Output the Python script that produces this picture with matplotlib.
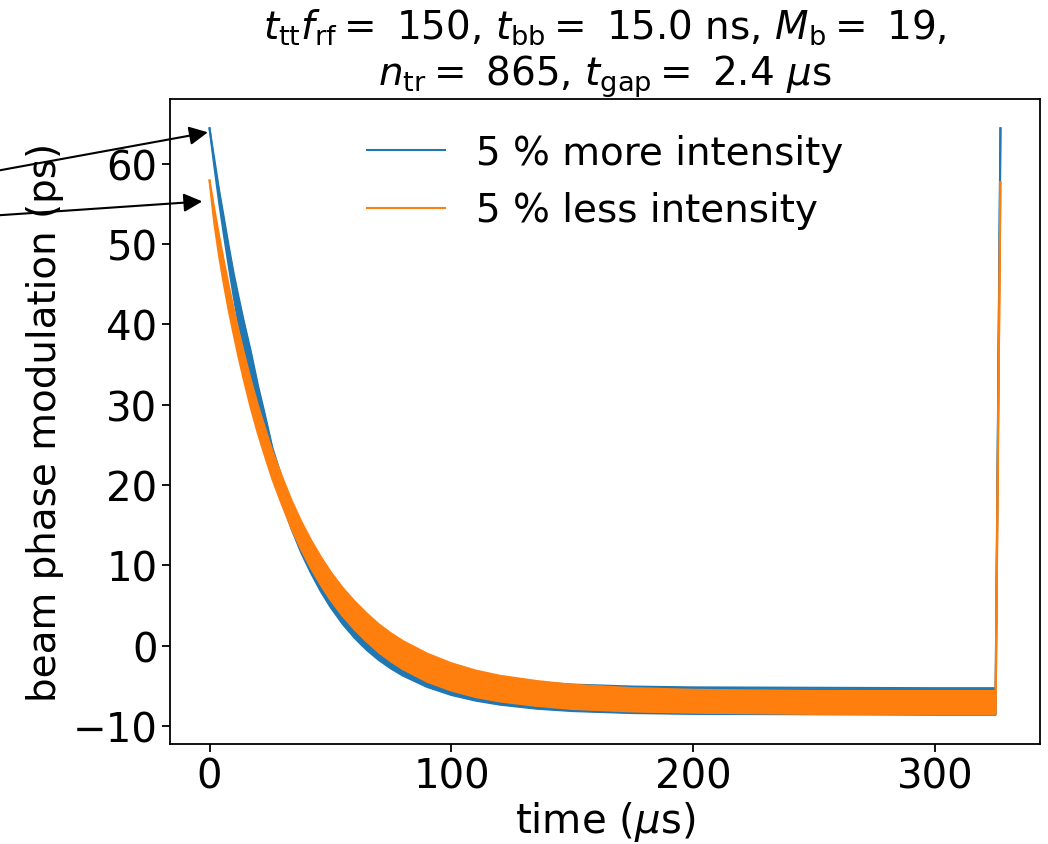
import matplotlib
matplotlib.use("Agg")
import matplotlib.pyplot as plt
from matplotlib.ticker import MultipleLocator

# ---- data (envelopes of the fast oscillation) ----
t_us = [0, 1, 2, 4, 6, 8, 10, 12, 14, 17, 20, 23, 26, 30, 34, 38, 42, 46,
        50, 55, 60, 65, 70, 75, 80, 90, 100, 110, 120, 135, 150, 175, 200,
        250, 300, 325, 327]

# 5 % more intensity (blue)
more_upper = [64.4, 62.4, 60.5, 56.6, 53.1, 49.6, 46.3, 43.4, 40.6, 36.7,
              32.4, 28.6, 24.6, 20.8, 17.6, 14.8, 12.3, 10.05, 8.1, 6.0,
              4.25, 2.75, 1.5, 0.45, -0.45, -1.85, -2.85, -3.55, -4.05,
              -4.55, -4.85, -5.1, -5.2, -5.25, -5.3, -5.3, 64.4]
more_lower = [64.4, 62.0, 59.6, 55.1, 51.0, 47.1, 43.4, 40.0, 36.8, 32.4,
              28.5, 24.9, 21.6, 17.8, 14.45, 11.5, 9.0, 6.75, 4.8, 2.7,
              0.95, -0.55, -1.8, -2.85, -3.75, -5.15, -6.15, -6.85, -7.35,
              -7.85, -8.15, -8.4, -8.5, -8.55, -8.6, -8.6, 64.4]

# 5 % less intensity (orange)
less_upper = [57.9, 56.1, 54.3, 50.9, 47.75, 44.7, 41.9, 39.2, 36.7, 33.15,
              29.9, 27.0, 24.2, 21.0, 18.0, 15.4, 13.1, 11.05, 9.2, 7.2,
              5.5, 4.0, 2.65, 1.53, 0.56, -1.0, -2.2, -3.1, -3.75, -4.4,
              -4.88, -5.3, -5.5, -5.65, -5.65, -5.65, 57.7]
less_lower = [57.9, 55.1, 52.5, 48.4, 44.85, 41.6, 38.7, 35.9, 33.3, 29.65,
              26.4, 23.5, 20.7, 17.5, 14.5, 11.9, 9.6, 7.55, 5.7, 3.7,
              2.0, 0.5, -0.85, -1.97, -2.94, -4.5, -5.6, -6.4, -6.95, -7.5,
              -7.88, -8.2, -8.35, -8.5, -8.5, -8.5, 57.7]

labels = ["5 % more intensity", "5 % less intensity"]
colors = ["#1f77b4", "#ff7f0e"]

# arrow tips (data coords) and arrow tails (figure pixels, off the left edge)
arrow_tips = [(-0.7, 63.9), (-3.0, 55.3)]
arrow_tails = [(-100, 655.5), (-100, 622.0)]

title = (r"$t_{\rm tt}f_{\rm rf} =$ 150, $t_{\rm bb} =$ 15.0 ns, $M_{\rm b} =$ 19," "\n"
         r"$n_{\rm tr} =$ 865, $t_{\rm gap} =$ 2.4 $\mu$s")

fig = plt.figure(figsize=(10.48, 8.45), dpi=100)
ax = fig.add_axes([170/1048, 1 - 745/845, 870/1048, 645/845])

bands = [(more_upper, more_lower), (less_upper, less_lower)]
for k, ((up, lo), lab, col) in enumerate(zip(bands, labels, colors)):
    z = 2 + k
    ax.fill_between(t_us, lo, up, color=col, lw=0, zorder=z)
    ax.plot(t_us, up, color=col, lw=1.5, label=lab, zorder=z)
    ax.plot(t_us, lo, color=col, lw=1.5, zorder=z)

for tip, tail in zip(arrow_tips, arrow_tails):
    ax.annotate("", xy=tip, xycoords="data", xytext=tail,
                textcoords="figure pixels", annotation_clip=False,
                arrowprops=dict(arrowstyle="-|>", color="black", lw=1.5,
                                mutation_scale=28, shrinkA=0, shrinkB=0))

ax.xaxis.set_major_locator(MultipleLocator(100))
ax.yaxis.set_major_locator(MultipleLocator(10))
ax.set_xlabel(r"time ($\mu$s)", fontsize=29, labelpad=2)
ax.set_ylabel("beam phase modulation (ps)", fontsize=28, labelpad=6)
ax.set_title(title, fontsize=28, pad=8)
ax.tick_params(labelsize=29, width=1.3, length=5.5)
for sp in ax.spines.values():
    sp.set_linewidth(1.3)
ax.legend(loc="upper center", frameon=False, fontsize=28)

fig.savefig("out.png", dpi=100)
